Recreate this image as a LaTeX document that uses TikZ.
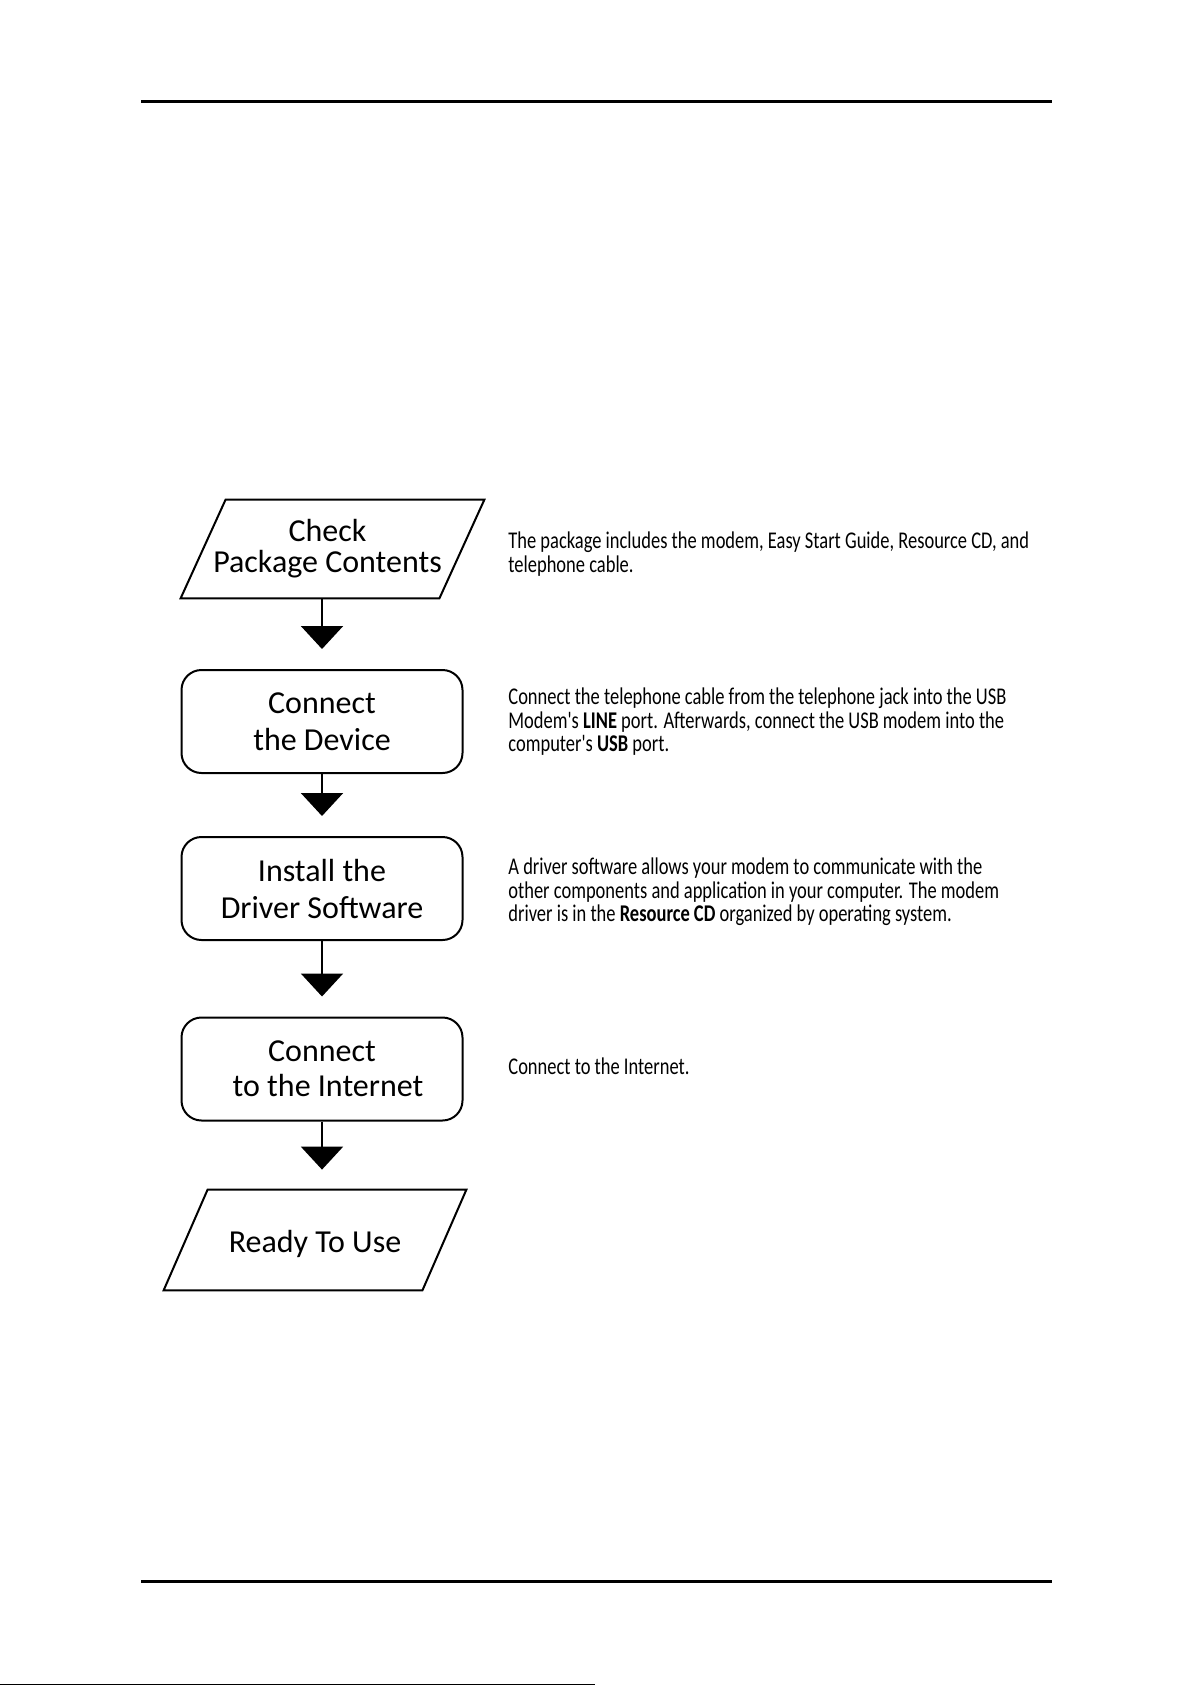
\documentclass[tikz,border=0pt]{standalone}
\usepackage{fontspec}
\setmainfont{Carlito}
\newfontfamily\boxfont{Carlito}
\newfontfamily\notefont[FakeStretch=0.77]{Carlito}
\usetikzlibrary{arrows.meta}

\tikzset{
    stepbox/.style={draw, line width=1pt, rounded corners=10pt, minimum width=140.5pt, minimum height=51.5pt, inner sep=0pt, align=center, font=\boxfont\fontsize{16}{18.5}\selectfont},
    iobox/.style={minimum width=129pt, inner sep=0pt, align=center, font=\boxfont\fontsize{16}{15.5}\selectfont},
    note/.style={anchor=west, inner sep=0pt, align=left, font=\notefont\fontsize{12}{11.75}\selectfont},
    flow/.style={line width=1.1pt, -{Triangle[width=21pt, length=11.5pt]}, shorten >=10pt},
    pagerule/.style={line width=1.5pt}
}

% slanted outline round a rectangular node: #1 node, #2 half slant
\newcommand{\slantframe}[2]{%
    \draw[line width=1pt, line join=miter]
    ([xshift=#2]#1.north west) -- ([xshift=#2]#1.north east) --
    ([xshift=-#2]#1.south east) -- ([xshift=-#2]#1.south west) -- cycle;}

\begin{document}
\begin{tikzpicture}[x=0.5pt, y=-0.5pt]
    \useasboundingbox (0, 0) rectangle (1191, 1685);

    \draw[pagerule] (141, 102) -- (1052, 102);
    \draw[pagerule] (141, 1581) -- (1052, 1581);
    \draw[line width=0.5pt] (0, 1684.5) -- (595, 1684.5);

    \node[iobox, minimum height=49pt] (check) at (332.5, 549) {Check\hspace*{5pt}\\Package Contents\hspace*{5pt}};
    \slantframe{check}{11.25pt}

    \node[stepbox] (device) at (322, 721.5) {Connect\\the Device};
    \node[stepbox] (driver) at (322, 888.5) {Install the\\Driver Software};
    \node[stepbox, font=\boxfont\fontsize{16}{17.5}\selectfont] (internet) at (322, 1069) {Connect\\\hspace*{6pt}to the Internet};

    \node[iobox, minimum height=50pt] (ready) at (315, 1240) {\raisebox{-2pt}[\height][\depth]{Ready To Use}};
    \slantframe{ready}{11pt}

    \draw[flow] (device.north |- check.south) -- (device.north);
    \draw[flow] (device) -- (driver);
    \draw[flow] (driver) -- (internet);
    \draw[flow] (internet.south) -- (internet.south |- ready.north);

    \node[note] (n1) at (508, 554) {The package includes the modem, Easy Start Guide, Resource CD, and\\telephone cable.};
    \node[note] (n2) at (508, 722) {Connect the telephone cable from the telephone jack into the USB\\Modem's \textbf{LINE} port. Afterwards, connect the USB modem into the\\computer's \textbf{USB} port.};
    \node[note] (n3) at (508, 892) {A driver software allows your modem to communicate with the\\other components and application in your computer. The modem\\driver is in the \textbf{Resource CD} organized by operating system.};
    \node[note] (n4) at (508, 1066) {Connect to the Internet.};
\end{tikzpicture}
\end{document}
